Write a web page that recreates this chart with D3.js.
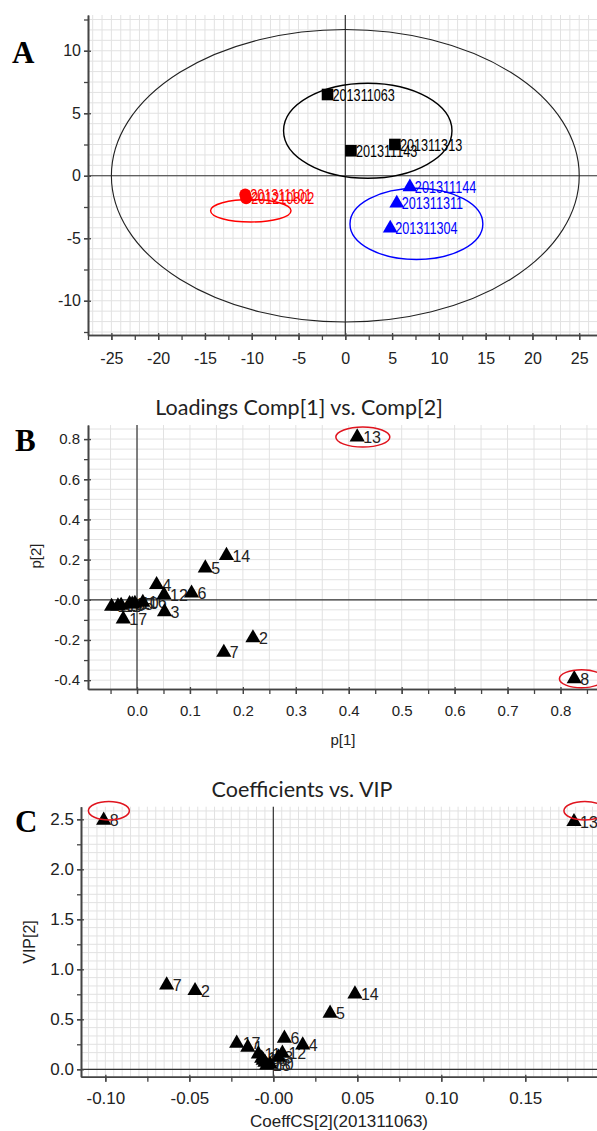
<!DOCTYPE html>
<html>
<head>
<meta charset="utf-8">
<script src="https://cdn.jsdelivr.net/npm/d3@7"></script>
<style>
  body { margin: 0; background: #fff; }
  text { font-family: "Liberation Sans", Arial, sans-serif; }
</style>
</head>
<body>
<svg id="chart"></svg>
<script>
// ---------- Data ----------
// Panel A: scores t[1] / t[2]
const scoreNames = ["201311063", "201311143", "201311313", "201311101", "201210802", "201311144", "201311311", "201311304"];
const scoreT1 = [-1.9, 0.6, 5.3, -10.7, -10.6, 6.9, 5.5, 4.8];
const scoreT2 = [6.5, 2.0, 2.5, -1.5, -1.8, -0.9, -2.2, -4.2];
const scoreGroup = ["black", "black", "black", "red", "red", "blue", "blue", "blue"];

// Hotelling ellipse + group ellipses (centre / radii in score units)
const ellGroup = ["all", "black", "red", "blue"];
const ellCx = [0, 2.4, -10.1, 7.6];
const ellCy = [0, 3.6, -2.8, -3.85];
const ellRx = [25, 9.0, 4.3, 7.1];
const ellRy = [11.7, 3.8, 0.9, 2.85];

const aXTicks = [-25, -20, -15, -10, -5, 0, 5, 10, 15, 20, 25];
const aYTicks = [-10, -5, 0, 5, 10];

// Panels B and C: variables 1..18
const varNames = ["1", "2", "3", "4", "5", "6", "7", "8", "9", "10", "11", "12", "13", "14", "15", "16", "17", "18"];
const loadP1 = [-0.048, 0.219, 0.052, 0.037, 0.129, 0.103, 0.164, 0.826, -0.009, -0.004, -0.036, 0.051, 0.416, 0.169, -0.014, 0.011, -0.026, -0.030];
const loadP2 = [-0.033, -0.190, -0.060, 0.075, 0.158, 0.033, -0.262, -0.393, -0.022, -0.018, -0.031, 0.025, 0.810, 0.220, -0.020, -0.013, -0.096, -0.028];
const coeffCS = [-0.0152, -0.0466, 0.003, 0.0175, 0.0338, 0.0066, -0.0635, -0.101, -0.005, -0.002, -0.0089, 0.0054, 0.179, 0.0486, -0.0069, -0.006, -0.0218, -0.0039];
const vip = [0.22, 0.786, 0.12, 0.243, 0.56, 0.31, 0.843, 2.49, 0.07, 0.05, 0.153, 0.16, 2.476, 0.753, 0.11, 0.09, 0.26, 0.043];

// highlighted variables (red rings)
const ringB = {cx: [0.4266, 0.84], cy: [0.81, -0.393], rx: [0.051, 0.042], ry: [0.05, 0.045]};
const ringC = {cx: [-0.0979, 0.1855], cy: [2.585, 2.585], rx: [0.0122, 0.0125], ry: [0.092, 0.092]};

const bXTicks = [0, 0.1, 0.2, 0.3, 0.4, 0.5, 0.6, 0.7, 0.8];
const bXTickLabels = ["0.0", "0.1", "0.2", "0.3", "0.4", "0.5", "0.6", "0.7", "0.8"];
const bYTicks = [-0.4, -0.2, 0, 0.2, 0.4, 0.6, 0.8];
const bYTickLabels = ["-0.4", "-0.2", "-0.0", "0.2", "0.4", "0.6", "0.8"];

const cXTicks = [-0.10, -0.05, 0, 0.05, 0.10, 0.15];
const cXTickLabels = ["-0.10", "-0.05", "-0.00", "0.05", "0.10", "0.15"];
const cYTicks = [0, 0.5, 1, 1.5, 2, 2.5];
const cYTickLabels = ["0.0", "0.5", "1.0", "1.5", "2.0", "2.5"];

// ---------- Canvas ----------
let width = 597;
let height = 1131;
let svg = d3.select('#chart').attr('width', width).attr('height', height);

const groupColor = {black: '#000000', red: '#ff0000', blue: '#0000ff'};
const gridColor = '#e2e2e2';
const axisColor = '#444';

// grid values between domain ends for a given step
let gridValues = (domain, step) => {
    let out = [];
    let start = Math.ceil(domain[0] / step - 1e-9);
    for (let i = start; i * step <= domain[1] + 1e-9; i++) out.push(i * step);
    return out;
};

// draws frame stuff common to the three panels: grid, zero lines, axes
let drawFrame = (cfg) => {
    let g = svg.append('g');
    let x = cfg.x, y = cfg.y;
    let [x0, x1] = x.range();
    let [y0, y1] = y.range();

    //grid
    g.append('g').selectAll('line')
        .data(gridValues(x.domain(), cfg.gridX))
        .enter().append('line')
        .attr('x1', d => x(d)).attr('x2', d => x(d))
        .attr('y1', y1).attr('y2', y0)
        .attr('stroke', gridColor).attr('stroke-width', 1);
    g.append('g').selectAll('line')
        .data(gridValues(y.domain(), cfg.gridY))
        .enter().append('line')
        .attr('y1', d => y(d)).attr('y2', d => y(d))
        .attr('x1', x0).attr('x2', x1)
        .attr('stroke', gridColor).attr('stroke-width', 1);

    //zero lines
    g.append('line')
        .attr('x1', x(0)).attr('x2', x(0)).attr('y1', y1).attr('y2', y0)
        .attr('stroke', '#333').attr('stroke-width', 1.2);
    g.append('line')
        .attr('y1', y(0)).attr('y2', y(0)).attr('x1', x0).attr('x2', x1)
        .attr('stroke', '#333').attr('stroke-width', 1.2);

    //minor ticks
    let minorX = d3.axisBottom(x).tickValues(gridValues(x.domain(), cfg.minorX)).tickFormat('').tickSize(5).tickSizeOuter(0);
    let minorY = d3.axisLeft(y).tickValues(gridValues(y.domain(), cfg.minorY)).tickFormat('').tickSize(4).tickSizeOuter(0);
    g.append('g').attr('transform', 'translate(0,' + y0 + ')').call(minorX);
    g.append('g').attr('transform', 'translate(' + x0 + ',0)').call(minorY);

    //labelled axes
    let xAxis = d3.axisBottom(x).tickValues(cfg.xTicks)
        .tickFormat((d, i) => cfg.xTickLabels[i]).tickSize(5).tickSizeOuter(0).tickPadding(cfg.xPad);
    let yAxis = d3.axisLeft(y).tickValues(cfg.yTicks)
        .tickFormat((d, i) => cfg.yTickLabels[i]).tickSize(4).tickSizeOuter(0).tickPadding(cfg.yPad);
    g.append('g').attr('class', 'xa').attr('transform', 'translate(0,' + y0 + ')').call(xAxis);
    g.append('g').attr('class', 'ya').attr('transform', 'translate(' + x0 + ',0)').call(yAxis);

    g.selectAll('.domain').attr('stroke', axisColor).attr('stroke-width', 1.6);
    g.selectAll('.tick line').attr('stroke', axisColor).attr('stroke-width', 1.3);
    g.selectAll('.xa .tick line').attr('y1', -2);
    g.selectAll('.ya .tick line').attr('x1', 3);
    g.selectAll('.tick text')
        .attr('fill', '#222')
        .style('font-size', cfg.tickFont + 'px')
        .style('font-family', '"Liberation Sans", Arial, sans-serif');
    return g;
};

let panelLetter = (txt, px, py) => {
    svg.append('text')
        .attr('x', px).attr('y', py)
        .style('font-family', '"Liberation Serif", "Times New Roman", serif')
        .style('font-weight', 'bold')
        .style('font-size', '31px')
        .text(txt);
};

// ---------- Panel A ----------
let xA = d3.scaleLinear().domain([-27.5, 26.9]).range([88, 597]);
let yA = d3.scaleLinear().domain([-12.74, 12.86]).range([335, 15]);
let gA = drawFrame({
    x: xA, y: yA, gridX: 1, gridY: 5 / 6, minorX: 2.5, minorY: 2.5,
    xTicks: aXTicks, xTickLabels: aXTicks.map(String),
    yTicks: aYTicks, yTickLabels: aYTicks.map(String),
    xPad: 13, yPad: 3, tickFont: 16
});

//ellipses
gA.append('g').selectAll('ellipse')
    .data(ellGroup)
    .enter().append('ellipse')
    .attr('cx', (d, i) => xA(ellCx[i]))
    .attr('cy', (d, i) => yA(ellCy[i]))
    .attr('rx', (d, i) => xA(ellRx[i]) - xA(0))
    .attr('ry', (d, i) => yA(0) - yA(ellRy[i]))
    .attr('fill', 'none')
    .attr('stroke', d => d === 'all' ? '#222' : groupColor[d])
    .attr('stroke-width', d => d === 'all' ? 1.1 : 1.4);

//score markers - labels are drawn in a condensed face (squeezed horizontally)
let scoreIdx = d3.range(scoreNames.length);
let symbolFor = {black: d3.symbolSquare, red: d3.symbolCircle, blue: d3.symbolTriangle};
let sizeFor = {black: 135, red: 110, blue: 95};
gA.append('g').selectAll('text')
    .data(scoreIdx)
    .enter().append('text')
    .attr('transform', i => 'translate(' + (xA(scoreT1[i]) + 5) + ',' + (yA(scoreT2[i]) + 6) + ') scale(0.79,1)')
    .attr('fill', i => groupColor[scoreGroup[i]])
    .style('font-size', '16px')
    .text(i => scoreNames[i]);
gA.append('g').selectAll('path')
    .data(scoreIdx)
    .enter().append('path')
    .attr('transform', i => 'translate(' + xA(scoreT1[i]) + ',' + yA(scoreT2[i]) + ')')
    .attr('d', i => d3.symbol().type(symbolFor[scoreGroup[i]]).size(sizeFor[scoreGroup[i]])())
    .attr('fill', i => groupColor[scoreGroup[i]]);

panelLetter('A', 12, 63);

// ---------- Panel B / C shared ----------
let varIdx = d3.range(varNames.length);
let drawVars = (g, x, y, xs, ys, ring) => {
    g.append('g').selectAll('text')
        .data(varIdx)
        .enter().append('text')
        .attr('x', i => x(xs[i]) + 6)
        .attr('y', i => y(ys[i]) + 6)
        .attr('fill', '#222')
        .style('font-size', '16px')
        .text(i => varNames[i]);
    g.append('g').selectAll('path')
        .data(varIdx)
        .enter().append('path')
        .attr('transform', i => 'translate(' + x(xs[i]) + ',' + y(ys[i]) + ')')
        .attr('d', d3.symbol().type(d3.symbolTriangle).size(100))
        .attr('fill', '#000');
    g.append('g').selectAll('ellipse')
        .data(ring.cx)
        .enter().append('ellipse')
        .attr('cx', d => x(d))
        .attr('cy', (d, i) => y(ring.cy[i]))
        .attr('rx', (d, i) => x(ring.rx[i]) - x(0))
        .attr('ry', (d, i) => y(0) - y(ring.ry[i]))
        .attr('fill', 'none')
        .attr('stroke', '#e0141e')
        .attr('stroke-width', 1.5);
};

let titleText = (txt, cx, cy) => {
    svg.append('text')
        .attr('x', cx).attr('y', cy)
        .attr('text-anchor', 'middle')
        .attr('fill', '#222')
        .style('font-family', 'Lato, "Open Sans", sans-serif')
        .style('font-size', '21.5px')
        .text(txt);
};

let axisTitle = (txt, cx, cy, rotate, size) => {
    svg.append('text')
        .attr('transform', 'translate(' + cx + ',' + cy + ')' + (rotate ? ' rotate(-90)' : ''))
        .attr('text-anchor', 'middle')
        .attr('fill', '#222')
        .style('font-size', size + 'px')
        .text(txt);
};

// ---------- Panel B ----------
let xB = d3.scaleLinear().domain([-0.0926, 0.869]).range([88, 597]);
let yB = d3.scaleLinear().domain([-0.444, 0.87]).range([689, 425]);
let gB = drawFrame({
    x: xB, y: yB, gridX: 0.05, gridY: 0.05, minorX: 0.05, minorY: 0.1,
    xTicks: bXTicks, xTickLabels: bXTickLabels,
    yTicks: bYTicks, yTickLabels: bYTickLabels,
    xPad: 11, yPad: 4, tickFont: 15
});
drawVars(gB, xB, yB, loadP1, loadP2, ringB);
titleText('Loadings Comp[1] vs. Comp[2]', 299, 415);
axisTitle('p[2]', 41, 556, true, 15);
axisTitle('p[1]', 343, 745, false, 15);
panelLetter('B', 15, 451);

// ---------- Panel C ----------
let xC = d3.scaleLinear().domain([-0.1145, 0.1927]).range([81, 597]);
let yC = d3.scaleLinear().domain([-0.074, 2.626]).range([1076.7, 806.7]);
let gC = drawFrame({
    x: xC, y: yC, gridX: 0.005, gridY: 0.5 / 6, minorX: 0.025, minorY: 0.25,
    xTicks: cXTicks, xTickLabels: cXTickLabels,
    yTicks: cYTicks, yTickLabels: cYTickLabels,
    xPad: 10, yPad: 3, tickFont: 17
});
drawVars(gC, xC, yC, coeffCS, vip, ringC);
titleText('Coefficients vs. VIP', 302, 797);
axisTitle('VIP[2]', 35, 942, true, 16);
axisTitle('CoeffCS[2](201311063)', 339, 1127, false, 17);
panelLetter('C', 15, 832);
</script>
</body>
</html>
